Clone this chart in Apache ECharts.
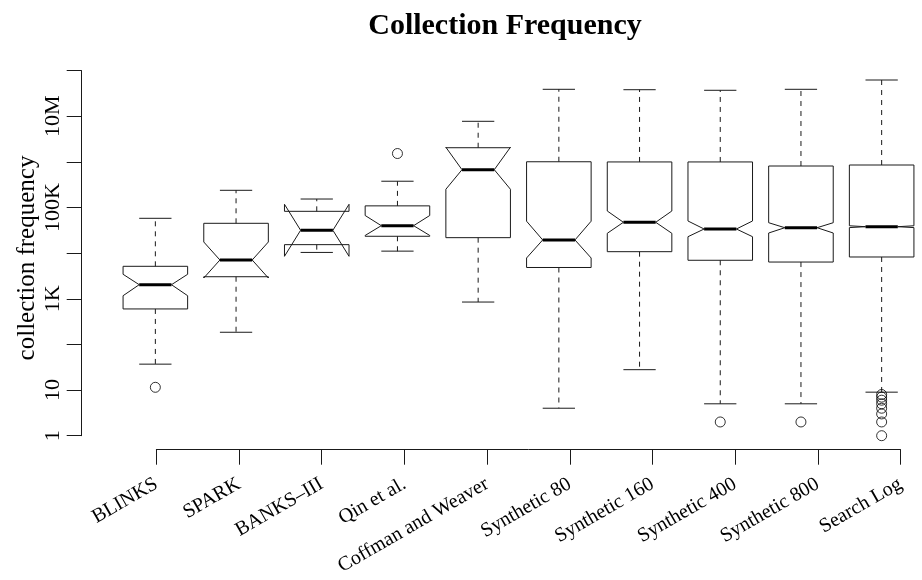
<!DOCTYPE html>
<html><head><meta charset="utf-8">
<script src="https://cdn.jsdelivr.net/npm/echarts@6/dist/echarts.min.js"></script>
<style>html,body{margin:0;padding:0;background:#fff}#c{width:922px;height:580px}</style>
</head><body><div id="c"></div>
<script>
const categories = ['BLINKS','SPARK','BANKS\u2013III','Qin et al.','Coffman and Weaver','Synthetic 80','Synthetic 160','Synthetic 400','Synthetic 800','Search Log'];
const lowerWhisker = [37, 185, 10400, 11100, 850, 4, 28, 5, 5, 9];
const notchLow     = [1170, 2860, 8550, 24500, 252000, 7850, 27300, 23000, 27700, 36400];
const q1           = [600, 3050, 15400, 23500, 21900, 4860, 10800, 7000, 6400, 8260];
const median       = [2040, 7100, 31800, 40100, 676000, 19500, 47600, 33900, 36200, 38100];
const q3           = [5160, 45200, 82800, 109000, 2050000, 1010000, 1000000, 1000000, 815000, 857000];
const notchHigh    = [3450, 17600, 118000, 67000, 2100000, 50300, 84100, 50800, 46600, 39900];
const upperWhisker = [58200, 239000, 154000, 378000, 7780000, 39100000, 38300000, 37200000, 39100000, 62500000];
const outlierCategory = [0, 3, 7, 8, 9, 9, 9, 9, 9, 9, 9, 9];
const outlierValue    = [11.5, 1530000, 2, 2, 1, 2, 3, 4, 5, 6, 7, 8];
const yTickLabels = ['1', '10', '', '1K', '', '100K', '', '10M', ''];

const boxData = categories.map((c, i) => [i, lowerWhisker[i], notchLow[i], q1[i], median[i], q3[i], notchHigh[i], upperWhisker[i]]);
const outlierData = outlierCategory.map((c, i) => [c, outlierValue[i]]);

const LINE = '#1a1a1a';
function renderBox(params, api) {
  const i = api.value(0);
  const yOf = v => api.coord([i, v])[1];
  const x = api.coord([i, api.value(4)])[0];
  const w = api.size([1, 0])[0] * 0.4;
  const yLw = yOf(api.value(1)), yCl = yOf(api.value(2)), yQ1 = yOf(api.value(3)),
        yMed = yOf(api.value(4)), yQ3 = yOf(api.value(5)), yCh = yOf(api.value(6)), yUw = yOf(api.value(7));
  const dash = {stroke: LINE, lineWidth: 1, lineDash: [5, 5], fill: null};
  const solid = {stroke: LINE, lineWidth: 1, fill: null};
  return {type: 'group', children: [
    {type: 'line', shape: {x1: x, y1: yQ3, x2: x, y2: yUw}, style: dash},
    {type: 'line', shape: {x1: x, y1: yQ1, x2: x, y2: yLw}, style: dash},
    {type: 'line', shape: {x1: x - w / 2, y1: yUw, x2: x + w / 2, y2: yUw}, style: solid},
    {type: 'line', shape: {x1: x - w / 2, y1: yLw, x2: x + w / 2, y2: yLw}, style: solid},
    {type: 'polygon', shape: {points: [
      [x - w, yQ1], [x - w, yCl], [x - w / 2, yMed], [x - w, yCh], [x - w, yQ3],
      [x + w, yQ3], [x + w, yCh], [x + w / 2, yMed], [x + w, yCl], [x + w, yQ1]
    ]}, style: {stroke: LINE, lineWidth: 1, fill: 'none'}},
    {type: 'line', shape: {x1: x - w / 2, y1: yMed, x2: x + w / 2, y2: yMed}, style: {stroke: '#000', lineWidth: 3}}
  ]};
}

const chart = echarts.init(document.getElementById('c'), null, {renderer: 'canvas'});
const FONT = 'Liberation Serif';
chart.setOption({
  animation: false,
  backgroundColor: '#fff',
  title: {
    text: 'Collection Frequency', left: 500, top: 6, textAlign: 'center',
    textStyle: {fontFamily: FONT, fontSize: 30, fontWeight: 'bold', color: '#000'}
  },
  graphic: [{
    type: 'text', x: 27, y: 258, rotation: Math.PI / 2,
    style: {text: 'collection frequency', font: '25px "Liberation Serif"', fill: '#000', align: 'center', verticalAlign: 'middle'}
  }],
  grid: [
    {left: 115, top: 70.7, width: 827, height: 365},
    {left: 156.35, top: 70.7, width: 744.15, height: 365}
  ],
  xAxis: [
    {gridIndex: 0, type: 'category', data: categories, show: false, boundaryGap: true},
    {gridIndex: 1, type: 'category', data: categories, boundaryGap: false, offset: 14,
      axisLine: {show: true, onZero: false, lineStyle: {color: LINE, width: 1}},
      axisTick: {show: true, length: 15, alignWithLabel: true, interval: 0, lineStyle: {color: LINE}},
      axisLabel: {rotate: 30, interval: 0, margin: 33, fontFamily: FONT, fontSize: 20, color: '#000'},
      splitLine: {show: false}}
  ],
  yAxis: [
    {gridIndex: 0, type: 'log', logBase: 10, min: 1, max: 1e8, offset: 33.3,
      axisLine: {show: true, onZero: false, lineStyle: {color: LINE, width: 1}},
      axisTick: {show: true, length: 15, lineStyle: {color: LINE}},
      axisLabel: {show: true, rotate: 90, margin: 17, fontFamily: FONT, fontSize: 22, color: '#000',
        formatter: v => { const k = Math.round(Math.log10(v)); return yTickLabels[k] || ''; }},
      splitLine: {show: false}, minorTick: {show: false}},
    {gridIndex: 1, type: 'log', min: 1, max: 1e8, show: false}
  ],
  series: [
    {type: 'custom', xAxisIndex: 0, yAxisIndex: 0, data: boxData, renderItem: renderBox, clip: false, z: 2},
    {type: 'scatter', xAxisIndex: 0, yAxisIndex: 0, data: outlierData, symbol: 'circle', symbolSize: 10,
      itemStyle: {color: 'rgba(0,0,0,0)', borderColor: '#000', borderWidth: 1}, z: 3}
  ]
});
</script></body></html>
